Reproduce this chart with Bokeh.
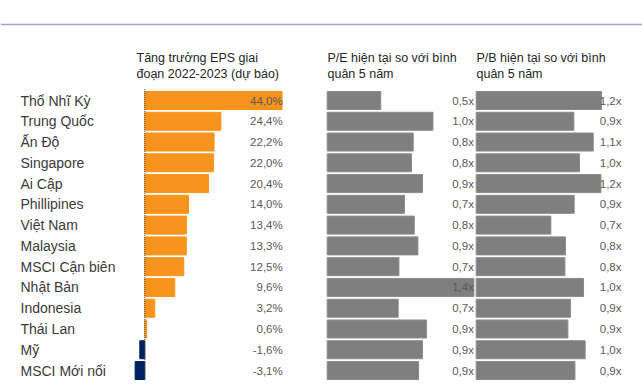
from bokeh.plotting import figure
from bokeh.models import Range1d, ColumnDataSource, Span
from bokeh.core.properties import value
from bokeh.embed import file_html
from bokeh.resources import INLINE

countries = ["Thổ Nhĩ Kỳ", "Trung Quốc", "Ấn Độ", "Singapore", "Ai Cập", "Phillipines",
             "Việt Nam", "Malaysia", "MSCI Cận biên", "Nhật Bản", "Indonesia", "Thái Lan",
             "Mỹ", "MSCI Mới nổi"]
eps_growth = [44.0, 24.4, 22.2, 22.0, 20.4, 14.0, 13.4, 13.3, 12.5, 9.6, 3.2, 0.6, -1.6, -3.1]
eps_labels = ["44,0%", "24,4%", "22,2%", "22,0%", "20,4%", "14,0%", "13,4%", "13,3%",
              "12,5%", "9,6%", "3,2%", "0,6%", "-1,6%", "-3,1%"]
pe_ratio = [0.51, 1.007, 0.819, 0.803, 0.908, 0.736, 0.829, 0.864, 0.683, 1.397, 0.676,
            0.945, 0.908, 0.87]
pe_labels = ["0,5x", "1,0x", "0,8x", "0,8x", "0,9x", "0,7x", "0,8x", "0,9x", "0,7x", "1,4x",
             "0,7x", "0,9x", "0,9x", "0,9x"]
pb_ratio = [1.177, 0.917, 1.099, 0.97, 1.171, 0.92, 0.701, 0.838, 0.833, 1.008, 0.885,
            0.861, 1.023, 0.927]
pb_labels = ["1,2x", "0,9x", "1,1x", "1,0x", "1,2x", "0,9x", "0,7x", "0,8x", "0,8x", "1,0x",
             "0,9x", "0,9x", "1,0x", "0,9x"]
headers = {
    "eps": ["Tăng trưởng EPS giai", "đoạn 2022-2023 (dự báo)"],
    "pe": ["P/E hiện tại so với bình", "quân 5 năm"],
    "pb": ["P/B hiện tại so với bình", "quân 5 năm"],
}

W, H = 642, 389
FONT = value("Liberation Sans")
rows = list(range(len(countries)))
pitch = 20.77
top = 100  # screen y of first row centre

p = figure(width=W, height=H, output_backend="svg", toolbar_location=None,
           x_range=Range1d(0, W), y_range=Range1d((H - top) / pitch, -top / pitch),
           min_border=0, outline_line_color=None)
p.axis.visible = False
p.grid.visible = False
p.background_fill_color = "white"
p.border_fill_color = "white"

# panel scales (pixel per unit) and zero positions (screen px)
eps_scale, eps_zero = 3.12, 144.3
pe_scale, pe_zero = 105.0, 326.7
pb_scale, pb_zero = 106.5, 475.7
p.extra_x_ranges = {
    "eps": Range1d(-eps_zero / eps_scale, (W - eps_zero) / eps_scale),
    "pe": Range1d(-pe_zero / pe_scale, (W - pe_zero) / pe_scale),
    "pb": Range1d(-pb_zero / pb_scale, (W - pb_zero) / pb_scale),
}

bh = 18 / pitch
eps_colors = ["#F7941D" if v >= 0 else "#002060" for v in eps_growth]
src = ColumnDataSource(dict(y=rows, country=countries, eps=eps_growth, epsl=eps_labels,
                            pe=pe_ratio, pel=pe_labels, pb=pb_ratio, pbl=pb_labels,
                            ec=eps_colors))

p.hbar(y="y", left=0, right="eps", height=bh, fill_color="ec", line_color="ec",
       source=src, x_range_name="eps")
p.hbar(y="y", left=0, right="pe", height=bh, fill_color="#7f7f7f", line_color="#8a8a8a",
       source=src, x_range_name="pe")
p.hbar(y="y", left=0, right="pb", height=bh, fill_color="#7f7f7f", line_color="#8a8a8a",
       source=src, x_range_name="pb")

# zero line of EPS panel
p.segment(x0=[0], y0=[-0.55], x1=[0], y1=[len(rows) - 1 + 0.5], x_range_name="eps",
          line_color="#404040", line_width=1, line_dash="1 1")

# top rule
p.add_layout(Span(location=(24 - top) / pitch, dimension="width", line_color="#a3a3cf",
                  line_width=1.5))

# country labels
p.text(x=20, y="y", text="country", source=src, text_font=FONT, text_font_size="14px",
       text_color="#3a3a3a", text_baseline="middle", text_align="left")

# value labels
p.text(x=max(eps_growth) + 0.2, y="y", text="epsl", source=src, x_range_name="eps",
       text_font=FONT, text_font_size="11.5px", text_color="#595959",
       text_baseline="middle", text_align="right")
p.text(x=max(pe_ratio), y="y", text="pel", source=src, x_range_name="pe",
       text_font=FONT, text_font_size="11.5px", text_color="#595959",
       text_baseline="middle", text_align="right")
p.text(x=1.364, y="y", text="pbl", source=src, x_range_name="pb",
       text_font=FONT, text_font_size="11.5px", text_color="#595959",
       text_baseline="middle", text_align="right")

# headers
hx = {"eps": 136, "pe": 327, "pb": 476}
for key, lines in headers.items():
    for k, line in enumerate(lines):
        p.text(x=[hx[key]], y=[(57 + 16 * k - top) / pitch], text=[line], text_font=FONT,
               text_font_size="12.5px", text_color="#262626", text_baseline="alphabetic",
               text_align="left")

open("out.html", "w").write(file_html(p, INLINE))
